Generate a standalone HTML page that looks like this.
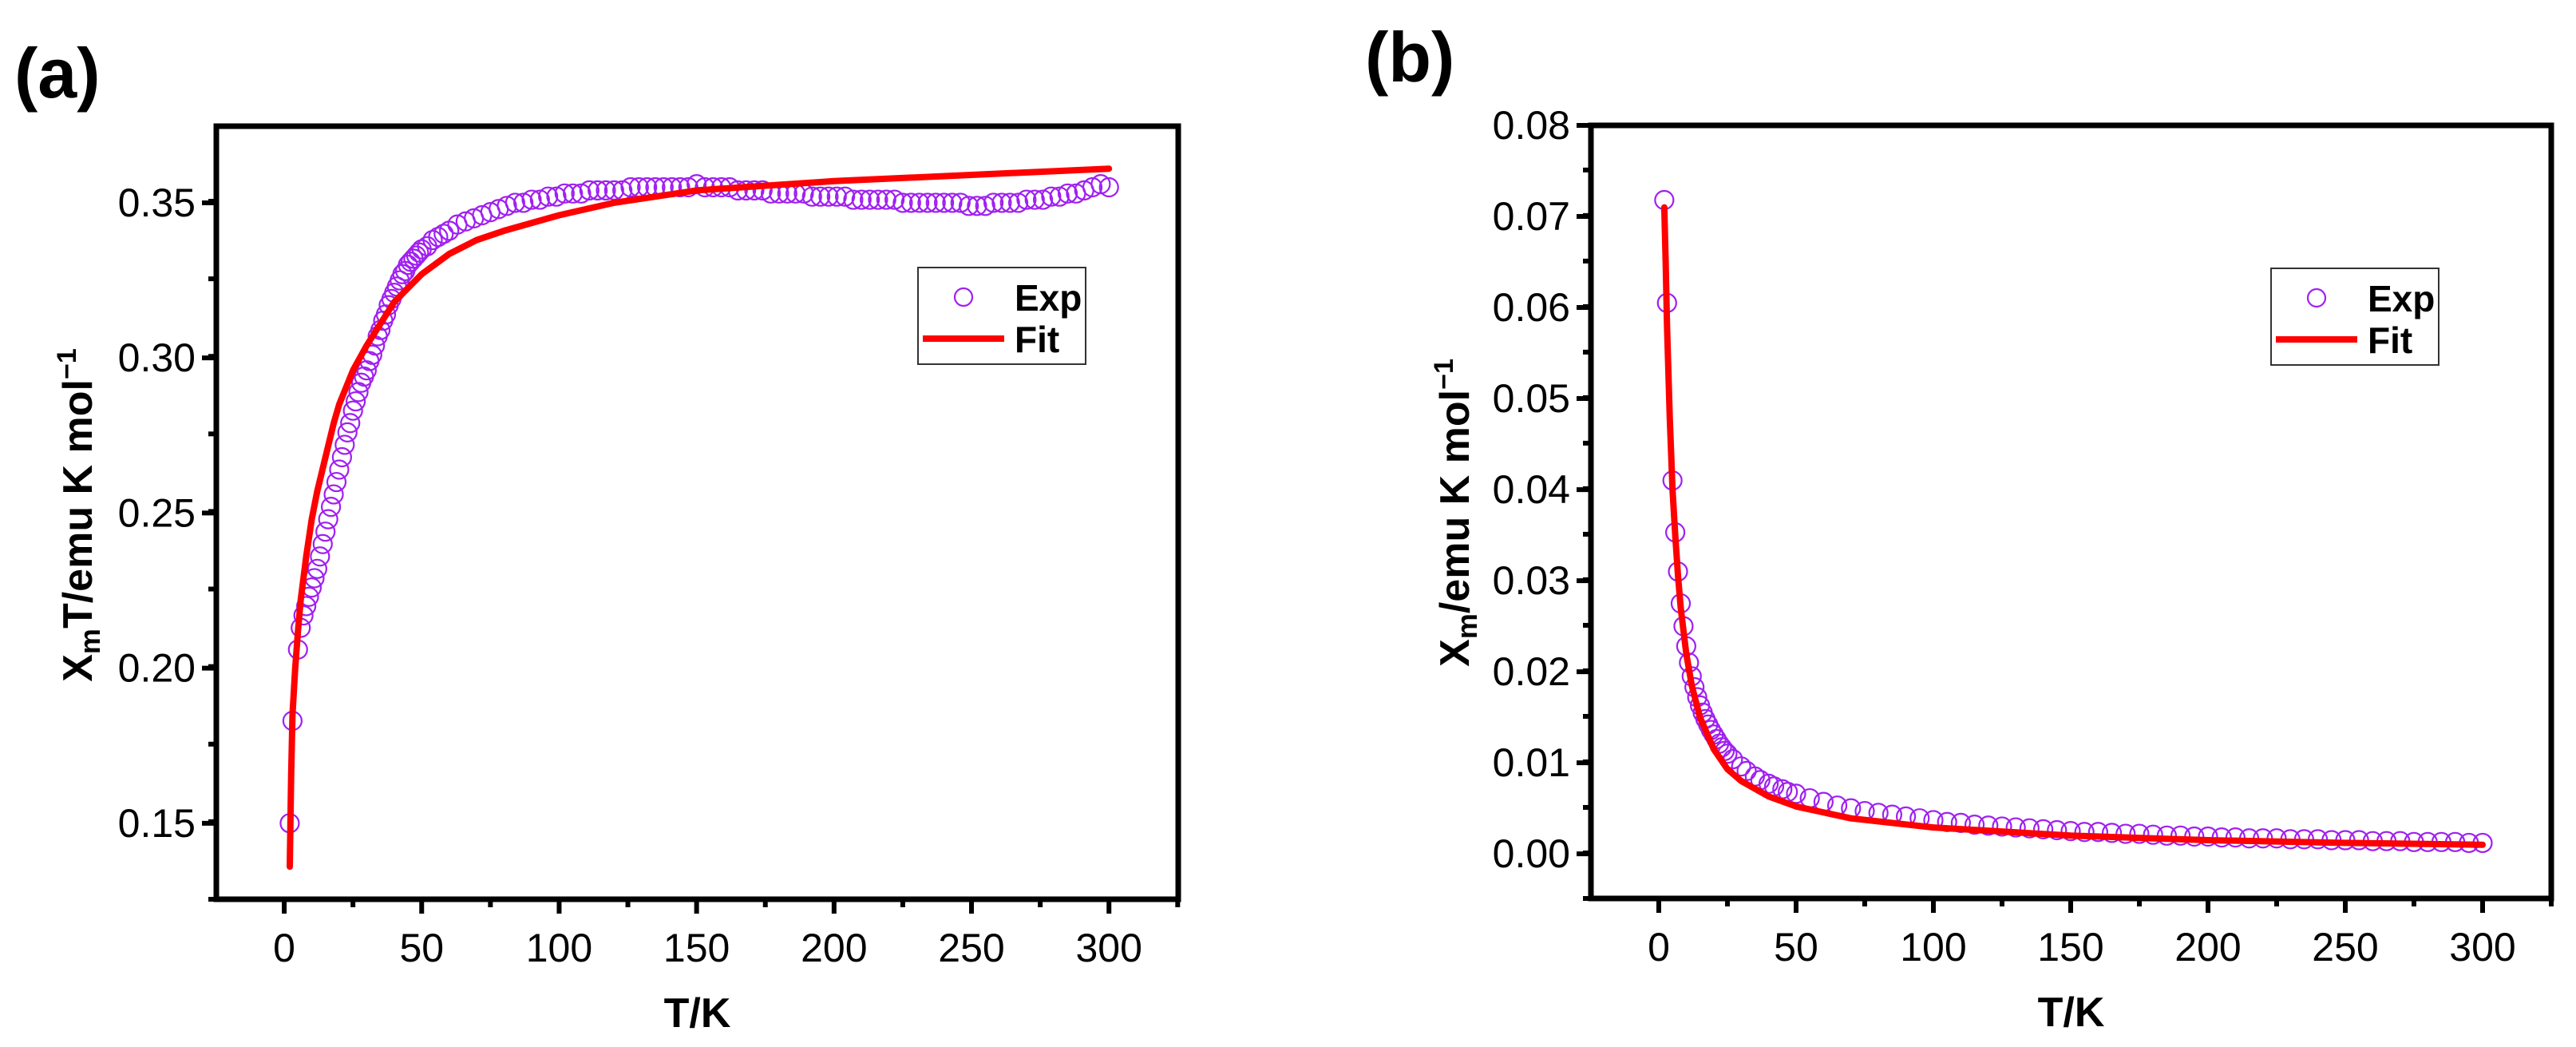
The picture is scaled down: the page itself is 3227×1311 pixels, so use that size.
<!DOCTYPE html>
<html><head><meta charset="utf-8"><style>
body{margin:0;background:#fff;}
svg{display:block;font-family:"Liberation Sans",sans-serif;}
</style></head><body>
<svg id="fig" width="3227" height="1311" viewBox="0 0 3227 1311">
<text x="18" y="122" font-size="88" font-weight="bold">(a)</text>
<text x="1710" y="102" font-size="88" font-weight="bold">(b)</text>
</svg>
<script>
// Panel (a) data
const aExpT = [2,3,5,6,7,8,9,10,11,12,13,14,15,16,17,18,19,20,21,22,23,24,25,26,27,28,29,30,31,32,33,34,35,36,37,38,39,40,41,42,43,44,45,46,47,48,49,50,52,54,56,58,60,63,66,69,72,75,78,81,84,87,90,93,96,99,102,105,108,111,114,117,120,123,126,129,132,135,138,141,144,147,150,153,156,159,162,165,168,171,174,177,180,183,186,189,192,195,198,201,204,207,210,213,216,219,222,225,228,231,234,237,240,243,246,249,252,255,258,261,264,267,270,273,276,279,282,285,288,291,294,297,300];
const aExpY = [0.150,0.183,0.206,0.213,0.217,0.220,0.223,0.226,0.229,0.232,0.236,0.240,0.244,0.248,0.252,0.256,0.260,0.264,0.268,0.272,0.276,0.279,0.283,0.286,0.289,0.292,0.294,0.296,0.299,0.301,0.304,0.307,0.309,0.312,0.314,0.317,0.319,0.321,0.323,0.325,0.327,0.328,0.330,0.331,0.332,0.333,0.334,0.335,0.336,0.338,0.339,0.340,0.341,0.343,0.344,0.345,0.346,0.347,0.348,0.349,0.350,0.350,0.351,0.351,0.352,0.352,0.353,0.353,0.353,0.354,0.354,0.354,0.354,0.354,0.355,0.355,0.355,0.355,0.355,0.355,0.355,0.355,0.356,0.355,0.355,0.355,0.355,0.354,0.354,0.354,0.354,0.353,0.353,0.353,0.353,0.353,0.352,0.352,0.352,0.352,0.352,0.351,0.351,0.351,0.351,0.351,0.351,0.350,0.350,0.350,0.350,0.350,0.350,0.350,0.350,0.349,0.349,0.349,0.350,0.350,0.350,0.350,0.351,0.351,0.351,0.352,0.352,0.353,0.353,0.354,0.355,0.356,0.355];
const aFitT = [2,2.5,3,4,5,6,8,10,12,15,18,20,25,30,35,40,50,60,70,80,100,120,150,200,250,300];
const aFitY = [0.136,0.165,0.185,0.200,0.212,0.222,0.236,0.248,0.257,0.268,0.279,0.285,0.296,0.304,0.311,0.318,0.327,0.3335,0.338,0.341,0.346,0.350,0.354,0.357,0.359,0.361];
const aYTicks = [0.15,0.20,0.25,0.30,0.35];
const aYLabels = ["0.15","0.20","0.25","0.30","0.35"];
const xTicks = [0,50,100,150,200,250,300];
const xLabels = ["0","50","100","150","200","250","300"];
// Panel (b) data
const bExpT = [2,3,5,6,7,8,9,10,11,12,13,14,15,16,17,18,19,20,21,22,23,24,25,27,30,32,35,37,40,42,45,47,50,55,60,65,70,75,80,85,90,95,100,105,110,115,120,125,130,135,140,145,150,155,160,165,170,175,180,185,190,195,200,205,210,215,220,225,230,235,240,245,250,255,260,265,270,275,280,285,290,295,300];
const bExpY = [0.0718,0.0605,0.0410,0.0353,0.0310,0.0275,0.0250,0.0228,0.0210,0.0195,0.0183,0.0172,0.0163,0.0155,0.0148,0.0142,0.0136,0.0131,0.0126,0.0121,0.0117,0.0113,0.0110,0.0104,0.0096,0.0091,0.0085,0.0081,0.0077,0.0074,0.0071,0.0068,0.0066,0.0061,0.0057,0.0053,0.0050,0.0047,0.0045,0.0043,0.0041,0.0039,0.0037,0.0035,0.0034,0.0032,0.0031,0.0030,0.0029,0.0028,0.0027,0.0026,0.0025,0.0024,0.0024,0.0023,0.0022,0.0022,0.0021,0.0020,0.0020,0.0019,0.0019,0.0018,0.0018,0.0017,0.0017,0.0017,0.0016,0.0016,0.0016,0.0015,0.0015,0.0015,0.0014,0.0014,0.0014,0.0013,0.0013,0.0013,0.0013,0.0012,0.0012];
const bFitT = [2,2.5,3,4,5,6,7,8,10,12,15,20,25,30,40,50,70,100,150,200,250,300];
const bFitY = [0.0710,0.0650,0.0580,0.0480,0.0400,0.0350,0.0305,0.0270,0.0220,0.0185,0.0150,0.0115,0.0093,0.0080,0.0063,0.0052,0.0039,0.0029,0.0020,0.0015,0.0012,0.0010];
const bYTicks = [0,0.01,0.02,0.03,0.04,0.05,0.06,0.07,0.08];
const bYLabels = ["0.00","0.01","0.02","0.03","0.04","0.05","0.06","0.07","0.08"];

const NS = "http://www.w3.org/2000/svg";
const svg = document.getElementById('fig');
function mk(tag, attrs, parent){const e=document.createElementNS(NS,tag);for(const k in attrs)e.setAttribute(k,attrs[k]);(parent||svg).appendChild(e);return e;}

function drawPanel(p){
  const g = mk('g',{});
  
  
  const sx = v => p.L + (v - p.xmin)/(p.xmax - p.xmin)*(p.R - p.L);
  const sy = v => p.B - (v - p.ymin)/(p.ymax - p.ymin)*(p.B - p.T);
  const tg = mk('g',{stroke:'#000','stroke-width':6},g);
  for(let v=-25; v<=325; v+=25){
    const x=sx(v); if(x<p.L-1||x>p.R+1) continue;
    const major = v%50===0;
    mk('line',{x1:x,y1:p.B,x2:x,y2:p.B+(major?18:10)},tg);
  }
  for(let v=p.ymin; v<=p.ymax+1e-9; v+=p.minor){
    const y=sy(v); if(y<p.T-1||y>p.B+1) continue;
    mk('line',{x1:p.L,y1:y,x2:p.L-10,y2:y},tg);
  }
  p.yTicks.forEach((v,i)=>{
    const y=sy(v);
    mk('line',{x1:p.L,y1:y,x2:p.L-18,y2:y},tg);
    const t=mk('text',{x:p.L-26,y:y+17,'font-size':50,'text-anchor':'end',fill:'#000'},g);
    t.textContent=p.yLabels[i];
    
    
  });
  xTicks.forEach((v,i)=>{
    const t=mk('text',{x:sx(v),y:p.B+78,'font-size':50,'text-anchor':'middle',fill:'#000'},g);
    t.textContent=xLabels[i];
    
    
  });
  const fr = mk('rect',{x:p.L,y:p.T,width:p.R-p.L,height:p.B-p.T,fill:'none',stroke:'#000','stroke-width':7},g);
  
  
  const mg = mk('g',{fill:'none',stroke:'#a020f0','stroke-width':2.2},g);
  
  
  p.expT.forEach((t,i)=>{
    const c = mk('circle',{cx:sx(t),cy:sy(p.expY[i]),r:11.5},mg);
    
    
  });
  const pts = p.fitT.map((t,i)=>sx(t).toFixed(1)+','+sy(p.fitY[i]).toFixed(1)).join(' ');
  const pl = mk('polyline',{points:pts,fill:'none',stroke:'#ff0000','stroke-width':8,'stroke-linejoin':'round','stroke-linecap':'round'},g);
  
  
  const lg = mk('g',{},g);
  
  
  mk('rect',{x:p.lx,y:p.ly,width:210,height:121,fill:'#fff',stroke:'#333','stroke-width':2},lg);
  mk('circle',{cx:p.lx+57,cy:p.ly+37,r:11,fill:'none',stroke:'#a020f0','stroke-width':2.2},lg);
  mk('line',{x1:p.lx+6,y1:p.ly+89,x2:p.lx+108,y2:p.ly+89,stroke:'#ff0000','stroke-width':8},lg);
  const e1=mk('text',{x:p.lx+121,y:p.ly+54,'font-size':46,'font-weight':'bold'},lg); e1.textContent='Exp';
  
  
  const e2=mk('text',{x:p.lx+121,y:p.ly+106,'font-size':46,'font-weight':'bold'},lg); e2.textContent='Fit';
  
  
  const xt=mk('text',{x:(p.L+p.R)/2,y:p.B+160,'font-size':52,'font-weight':'bold','text-anchor':'middle'},g);
  xt.textContent='T/K';
  
  
  const yt=mk('text',{transform:`translate(${p.ytx},${p.yty}) rotate(-90)`,'font-size':52,'font-weight':'bold','text-anchor':'middle'},g);
  yt.innerHTML = p.ytitle;
  
  
}

drawPanel({name:'panel-a-chart',L:271,R:1476,T:158,B:1126,xmin:-24.7,xmax:325.2,ymin:0.1255,ymax:0.3747,minor:0.025,
  yTicks:aYTicks,yLabels:aYLabels,expT:aExpT,expY:aExpY,fitT:aFitT,fitY:aFitY,lx:1150,ly:335,ytx:115,yty:645,
  ytitle:'X<tspan font-size="36" dy="10">m</tspan><tspan dy="-10">T/emu K mol</tspan><tspan font-size="34" dy="-20">−1</tspan>'});
drawPanel({name:'panel-b-chart',L:1993,R:3196,T:157,B:1125,xmin:-24.7,xmax:325,ymin:-0.0049,ymax:0.08,minor:0.005,
  yTicks:bYTicks,yLabels:bYLabels,expT:bExpT,expY:bExpY,fitT:bFitT,fitY:bFitY,lx:2845,ly:336,ytx:1840,yty:642,
  ytitle:'X<tspan font-size="36" dy="10">m</tspan><tspan dy="-10">/emu K mol</tspan><tspan font-size="34" dy="-20">−1</tspan>'});
</script>
</body></html>
